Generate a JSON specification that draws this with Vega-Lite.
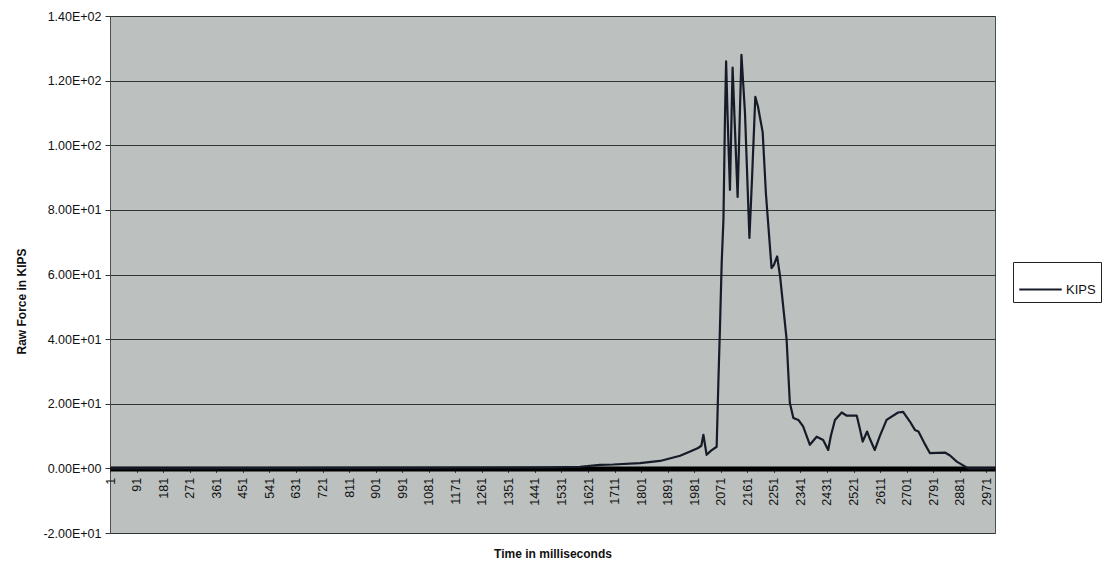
{
  "$schema": "https://vega.github.io/schema/vega-lite/v6.json",
  "width": 885,
  "height": 517,
  "autosize": {"type": "none"},
  "padding": {"left": 110, "top": 16, "right": 116, "bottom": 35},
  "background": "white",
  "config": {
    "font": "Liberation Sans",
    "view": {"fill": "#bcc0bf", "stroke": "#4a4f4f", "strokeWidth": 1}
  },
  "data": {
    "values": [
      {"t": 1, "kips": 0},
      {"t": 1492, "kips": 0.3},
      {"t": 1594, "kips": 0.5},
      {"t": 1661, "kips": 1.1},
      {"t": 1706, "kips": 1.2},
      {"t": 1797, "kips": 1.6},
      {"t": 1865, "kips": 2.3},
      {"t": 1933, "kips": 3.9},
      {"t": 1967, "kips": 5.2},
      {"t": 1994, "kips": 6.3},
      {"t": 2005, "kips": 7.0},
      {"t": 2012, "kips": 10.4},
      {"t": 2023, "kips": 4.2},
      {"t": 2038, "kips": 5.5},
      {"t": 2057, "kips": 6.7},
      {"t": 2063, "kips": 27.4},
      {"t": 2068, "kips": 43},
      {"t": 2074, "kips": 63.6},
      {"t": 2080, "kips": 77},
      {"t": 2085, "kips": 108},
      {"t": 2089, "kips": 126},
      {"t": 2094, "kips": 109},
      {"t": 2102, "kips": 86.2},
      {"t": 2111, "kips": 124},
      {"t": 2119, "kips": 105},
      {"t": 2128, "kips": 84},
      {"t": 2141, "kips": 128},
      {"t": 2153, "kips": 110},
      {"t": 2168, "kips": 71.3},
      {"t": 2177, "kips": 90},
      {"t": 2188, "kips": 115},
      {"t": 2197, "kips": 112},
      {"t": 2213, "kips": 104},
      {"t": 2224, "kips": 85},
      {"t": 2243, "kips": 62},
      {"t": 2251, "kips": 63},
      {"t": 2262, "kips": 65.6},
      {"t": 2272, "kips": 59.4},
      {"t": 2294, "kips": 40},
      {"t": 2305, "kips": 20.3},
      {"t": 2317, "kips": 15.6},
      {"t": 2334, "kips": 15},
      {"t": 2350, "kips": 13},
      {"t": 2373, "kips": 7.3},
      {"t": 2396, "kips": 9.8},
      {"t": 2418, "kips": 8.8},
      {"t": 2435, "kips": 5.7},
      {"t": 2444, "kips": 10},
      {"t": 2458, "kips": 15},
      {"t": 2481, "kips": 17.3},
      {"t": 2498, "kips": 16.3},
      {"t": 2532, "kips": 16.3},
      {"t": 2543, "kips": 12},
      {"t": 2552, "kips": 8.3},
      {"t": 2567, "kips": 11.4},
      {"t": 2577, "kips": 9},
      {"t": 2593, "kips": 5.7},
      {"t": 2610, "kips": 10},
      {"t": 2633, "kips": 15},
      {"t": 2672, "kips": 17.3},
      {"t": 2689, "kips": 17.5},
      {"t": 2712, "kips": 14.5},
      {"t": 2729, "kips": 11.9},
      {"t": 2741, "kips": 11.4},
      {"t": 2763, "kips": 7.5},
      {"t": 2780, "kips": 4.7},
      {"t": 2831, "kips": 4.9},
      {"t": 2848, "kips": 4},
      {"t": 2871, "kips": 2.1},
      {"t": 2910, "kips": 0},
      {"t": 3000, "kips": 0}
    ]
  },
  "mark": {"type": "line", "strokeWidth": 2.2, "strokeJoin": "round", "clip": true},
  "encoding": {
    "x": {
      "field": "t",
      "type": "quantitative",
      "scale": {"domain": [0.5, 3000.5], "nice": false, "zero": false},
      "axis": {
        "title": "Time in milliseconds",
        "titleFontSize": 12,
        "titleFontWeight": "bold",
        "titleColor": "#111",
        "titleY": 80,
        "offset": -64.6,
        "format": "d",
        "values": [1, 91, 181, 271, 361, 451, 541, 631, 721, 811, 901, 991, 1081, 1171, 1261, 1351, 1441, 1531, 1621, 1711, 1801, 1891, 1981, 2071, 2161, 2251, 2341, 2431, 2521, 2611, 2701, 2791, 2881, 2971],
        "labelAngle": 270,
        "labelAlign": "right",
        "labelBaseline": "middle",
        "labelFontSize": 12.5,
        "labelColor": "#111",
        "labelPadding": 5,
        "labelOverlap": false,
        "labelFlush": false,
        "domainColor": "#000",
        "domainWidth": 5,
        "tickColor": "#333",
        "tickSize": 4,
        "grid": false
      }
    },
    "y": {
      "field": "kips",
      "type": "quantitative",
      "title": "Raw Force in KIPS",
      "scale": {"domain": [-20, 140], "nice": false},
      "axis": {
        "values": [-20, 0, 20, 40, 60, 80, 100, 120, 140],
        "labelExpr": "datum.value == 0 ? '0.00E+00' : (datum.value < 0 ? '-' : '') + format(abs(datum.value) / pow(10, floor(log(abs(datum.value)) / LN10 + 1e-9)), '.2f') + 'E+' + (floor(log(abs(datum.value)) / LN10 + 1e-9) < 10 ? '0' : '') + floor(log(abs(datum.value)) / LN10 + 1e-9)",
        "labelFontSize": 12.5,
        "labelColor": "#111",
        "labelPadding": 4,
        "tickSize": 5,
        "tickColor": "#333",
        "domain": false,
        "grid": true,
        "gridColor": "#2f3535",
        "gridWidth": 1,
        "titleFontSize": 12,
        "titleFontWeight": "bold",
        "titleColor": "#111",
        "titlePadding": 14,
        "titleY": 285
      }
    },
    "color": {
      "datum": "KIPS",
      "scale": {"range": ["#161b28"]},
      "legend": {
        "title": null,
        "orient": "none",
        "legendX": 903,
        "legendY": 246,
        "symbolType": "stroke",
        "symbolSize": 1800,
        "symbolStrokeWidth": 2,
        "labelFontSize": 13,
        "labelColor": "#111",
        "strokeColor": "#222",
        "fillColor": "white",
        "padding": 5,
        "labelOffset": 3
      }
    }
  }
}
